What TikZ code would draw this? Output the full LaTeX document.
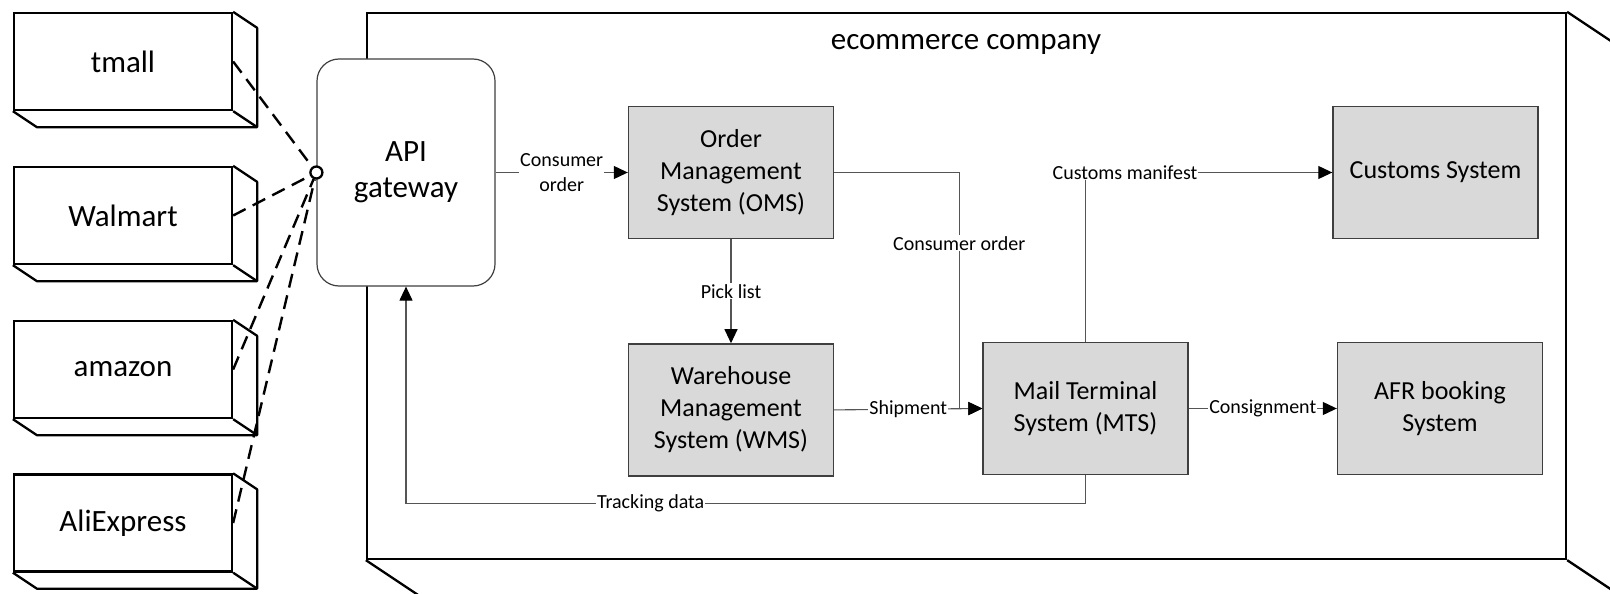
\documentclass[tikz,border=0pt]{standalone}
\usepackage{fontspec}
\setmainfont{Carlito}
\usetikzlibrary{arrows.meta}
\usetikzlibrary{positioning}
\definecolor{boxgray}{HTML}{D9D9D9}
\definecolor{edgegray}{HTML}{3F3F3F}
\definecolor{wiregray}{HTML}{555555}
\tikzset{channel/.style = {draw, line width = 2.3pt, minimum width = 218pt, minimum height = 97pt,
                           inner sep = 0, font = \fontsize{31}{36}\selectfont}}
\tikzset{system/.style = {draw = edgegray, fill = boxgray, line width = 1.4pt, minimum width = 205pt,
                          minimum height = 132pt, align = center, inner sep = 0,
                          font = \fontsize{26}{32}\selectfont}}
\tikzset{lbl/.style = {fill = white, inner sep = 1pt, align = center, font = \fontsize{20}{25}\selectfont}}
\tikzset{conn/.style = {draw = wiregray, line width = 1.1pt}}
\tikzset{arr/.style = {conn, -{Triangle[length = 14pt, width = 13pt, color = black]}}}
\tikzset{link/.style = {line width = 2.4pt, dash pattern = on 14pt off 8pt}}
\begin{document}
\begin{tikzpicture}[x = 1pt, y = -1pt]
  \useasboundingbox (0, 0) rectangle (1610, 594);
  \clip (0, 0) rectangle (1610, 594);
  % company frame
  \node [draw, line width = 2.3pt, minimum width = 1199pt, minimum height = 546pt, inner sep = 0]
    (company) at (966.5, 286) {};
  \draw [line width = 2.3pt] (company.north east) -- ++(60, 40);
  \draw [line width = 2.3pt] (company.south east) -- ++(60, 40);
  \draw [line width = 2.3pt] (company.south west) -- ++(60, 40);
  \node [font = \fontsize{31}{36}\selectfont] (title) at (966, 44) {ecommerce company};
  % sales channels
  \node [channel] (tmall) at (123, 61.5) {tmall};
  \node [channel] (walmart) at (123, 215.5) {Walmart};
  \node [channel] (amazon) at (123, 369.5) {amazon};
  \node [channel] (aliexpress) at (123, 523) {AliExpress};
  \foreach \n in {tmall, walmart, amazon, aliexpress} {
    \draw [line width = 2.3pt, line join = round] (\n.north east) -- ++(24, 16)
      -- ([shift = {(24, 16)}]\n.south east) -- ([shift = {(24, 16)}]\n.south west) -- (\n.south west);
    \draw [line width = 2.3pt] (\n.south east) -- ++(24, 16);
  }
  % systems
  \node [draw = edgegray, fill = white, line width = 1.2pt, rounded corners = 22pt, minimum width = 178pt,
         minimum height = 227pt, align = center, font = \fontsize{31}{36}\selectfont]
    (api) at (406, 172.5) {API\\gateway};
  \node [system] (oms) at (731, 172.5) {Order\\Management\\System (OMS)};
  \node [system, below = 104pt of oms] (wms) {Warehouse\\Management\\System (WMS)};
  \node [system] (mts) at (1085.5, 408.5) {Mail Terminal\\System (MTS)};
  \node [system] (customs) at (1435.5, 172.5) {Customs System};
  \node [system] (afr) at (1440, 408.5) {AFR booking\\System};
  % flows
  \draw [arr] (api.east) -- node [lbl] {Consumer\\order} (oms.west);
  \draw [arr] (oms.south) -- node [lbl] {Pick list} (wms.north);
  \draw [arr] (oms.east) -- ++(125, 0) |- node [lbl, pos = 0.15] {Consumer order} (mts.west);
  \draw [arr] (wms.east) -- node [lbl] {Shipment} (mts.west);
  \draw [arr] (mts.east) -- node [lbl] {Consignment} (afr.west);
  \draw [arr] (mts.north) |- node [lbl, pos = 0.58] {Customs manifest} (customs.west);
  \draw [arr] (mts.south) -- ++(0, 28) -| node [lbl, pos = 0.32] {Tracking data} (api.south);
  % channel links
  \node [circle, draw, fill = white, line width = 2.3pt, minimum size = 12pt, inner sep = 0] (port) at (api.west) {};
  \foreach \n in {tmall, walmart, amazon, aliexpress}
    \draw [link] (\n.east) -- (port);
\end{tikzpicture}
\end{document}
